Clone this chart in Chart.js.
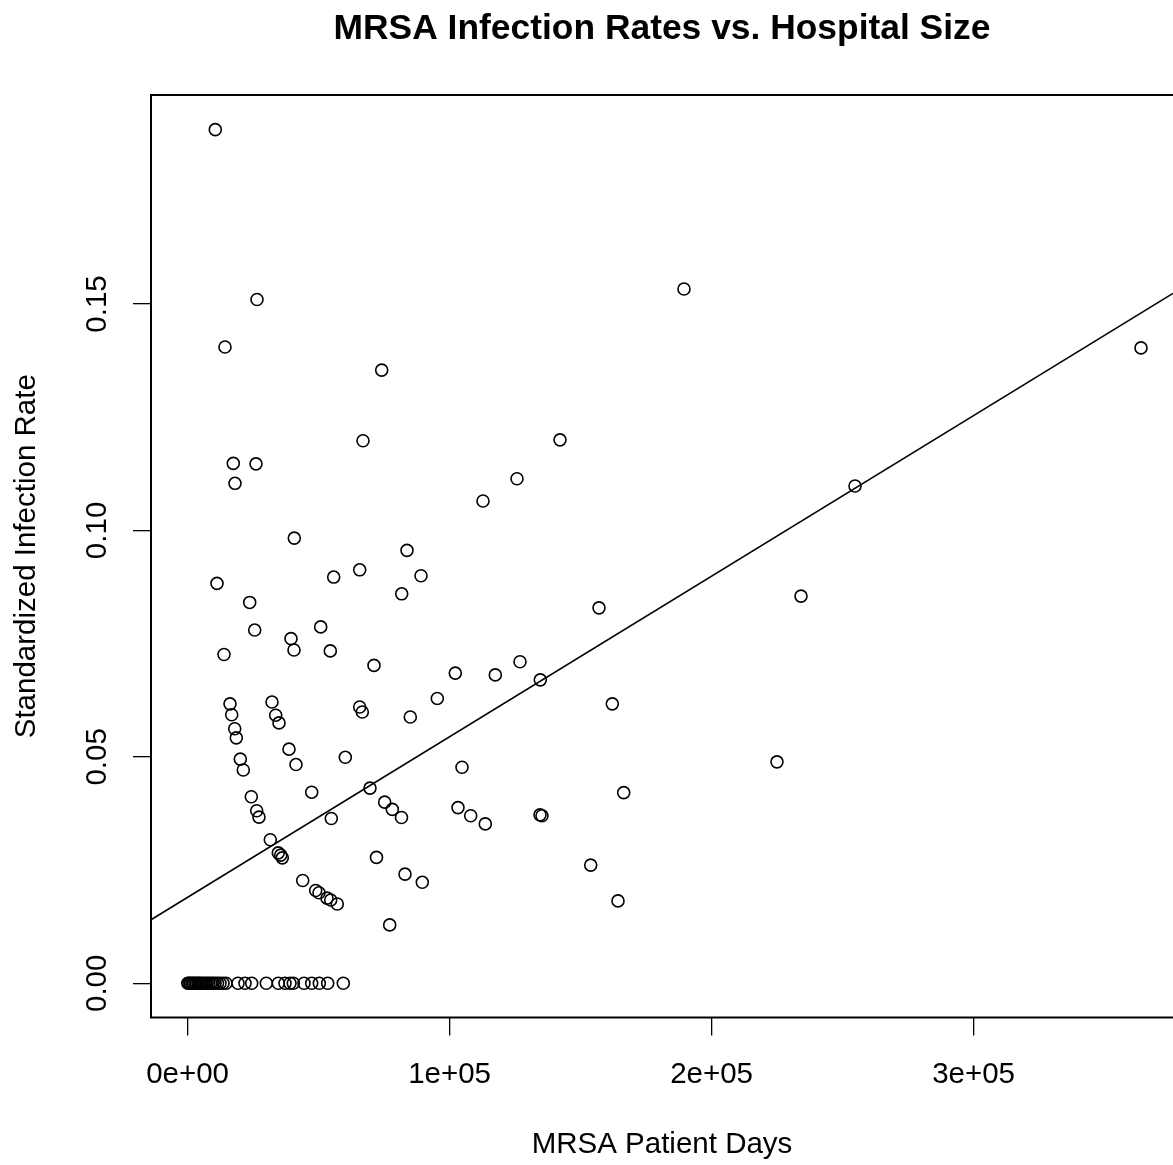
<!DOCTYPE html>
<html>
<head>
<meta charset="utf-8">
<title>MRSA Infection Rates vs. Hospital Size</title>
<script src="https://cdn.jsdelivr.net/npm/chart.js@4/dist/chart.umd.min.js"></script>
<style>
  html, body { margin: 0; padding: 0; background: #fff; overflow: hidden; }
  canvas { display: block; }
</style>
</head>
<body>
<canvas id="chart" width="1173" height="1165"></canvas>
<script>
// MRSA patient days per hospital and its standardized infection rate
const patientDays = [
  10573, 26489, 14275, 74083, 189466, 363894, 66947, 17443, 26107, 18092,
  142138, 125725, 112748, 254733, 40725, 83741, 65687, 55763, 89084, 11221,
  81718, 23702, 157023, 234123, 50802, 39466, 40611, 25611, 13893, 54466,
  71145, 102176, 117443, 126871, 134619, 95305, 85000, 162100, 65687, 66679,
  16183, 16832, 17977, 18588, 20114, 21260, 32214, 33626, 34886, 38702,
  41374, 60191, 104733, 224962, 166451, 24313, 26374, 27252, 47366, 54847,
  69618, 75229, 78130, 81641, 103206, 108054, 113626, 134504, 135267, 31565,
  34618, 35534, 36145, 72099, 82977, 89580, 153855, 164275, 77138, 43931,
  48893, 50153, 53206, 54618, 57137,
  // hospitals with no infections
  76, 534, 1107, 1679, 2252, 2824, 3397, 3969, 4542, 5115,
  5878, 6641, 7405, 8168, 8931, 9695, 10458, 11412, 12366, 13511,
  14656, 19237, 21908, 24466, 30038, 34618, 37176, 39084, 40344, 44428,
  47366, 50267, 53473, 59428
];
const infectionRate = [
  0.1885, 0.1510, 0.1405, 0.1354, 0.1533, 0.1403, 0.1198, 0.1148, 0.1147, 0.1104,
  0.1200, 0.1114, 0.1065, 0.1098, 0.0983, 0.0956, 0.0913, 0.0897, 0.0900, 0.0883,
  0.0860, 0.0841, 0.0829, 0.0855, 0.0787, 0.0761, 0.0736, 0.0780, 0.0726, 0.0734,
  0.0702, 0.0685, 0.0681, 0.0710, 0.0670, 0.0629, 0.0588, 0.0617, 0.0610, 0.0599,
  0.0617, 0.0593, 0.0562, 0.0542, 0.0495, 0.0471, 0.0621, 0.0592, 0.0575, 0.0517,
  0.0483, 0.0499, 0.0477, 0.0489, 0.0421, 0.0412, 0.0381, 0.0367, 0.0422, 0.0364,
  0.0431, 0.0400, 0.0384, 0.0366, 0.0388, 0.0370, 0.0352, 0.0372, 0.0370, 0.0317,
  0.0288, 0.0283, 0.0277, 0.0278, 0.0241, 0.0223, 0.0261, 0.0182, 0.0129, 0.0227,
  0.0205, 0.0200, 0.0188, 0.0184, 0.0175,
  0, 0, 0, 0, 0, 0, 0, 0, 0, 0,
  0, 0, 0, 0, 0, 0, 0, 0, 0, 0,
  0, 0, 0, 0, 0, 0, 0, 0, 0, 0,
  0, 0, 0, 0
];

// least squares line (abline)
const fitIntercept = 0.018985;
const fitSlope = 3.5457e-7;

const xTicks = [0, 100000, 200000, 300000];
const xTickLabels = ["0e+00", "1e+05", "2e+05", "3e+05"];
const yTicks = [0, 0.05, 0.10, 0.15];
const yTickLabels = ["0.00", "0.05", "0.10", "0.15"];

// axis limits (the plot region runs a little past the right edge of the page)
const xMin = -13969, xMax = 376107;
const yMin = -0.007552, yMax = 0.19615;

Chart.defaults.font.family = "'Liberation Sans', Arial, sans-serif";
Chart.defaults.color = "#000";

const points = patientDays.map((d, i) => ({ x: d, y: infectionRate[i] }));
const fitLine = [xMin, xMax].map(x => ({ x: x, y: fitIntercept + fitSlope * x }));

// box around the plot region (right side falls outside the page)
const boxPlugin = {
  id: "box",
  afterDraw(chart) {
    const { ctx, chartArea: a } = chart;
    ctx.save();
    ctx.strokeStyle = "#000";
    ctx.lineWidth = 2;
    ctx.beginPath();
    ctx.moveTo(a.right + 10, a.top);
    ctx.lineTo(a.left, a.top);
    ctx.lineTo(a.left, a.bottom);
    ctx.lineTo(a.right + 10, a.bottom);
    ctx.stroke();
    ctx.restore();
  }
};

new Chart(document.getElementById("chart"), {
  type: "scatter",
  data: {
    datasets: [
      {
        data: points,
        pointStyle: "circle",
        pointRadius: 6,
        pointHoverRadius: 6,
        pointBorderWidth: 1.6,
        pointBorderColor: "#000",
        pointBackgroundColor: "rgba(0,0,0,0)"
      },
      {
        data: fitLine,
        showLine: true,
        borderColor: "#000",
        borderWidth: 1.6,
        pointRadius: 0
      }
    ]
  },
  plugins: [boxPlugin],
  options: {
    responsive: false,
    animation: false,
    events: [],
    layout: { padding: 0, autoPadding: false },
    plugins: {
      legend: { display: false },
      tooltip: { enabled: false },
      title: {
        display: true,
        fullSize: false,
        text: "MRSA Infection Rates vs. Hospital Size",
        color: "#000",
        font: { size: 35.4, weight: "bold" },
        padding: { top: 7.5, bottom: 45 }
      }
    },
    scales: {
      x: {
        type: "linear",
        min: xMin,
        max: xMax,
        afterBuildTicks: s => { s.ticks = xTicks.map(v => ({ value: v })); },
        afterFit: s => { s.height = 147.5; },
        border: { display: false },
        grid: { drawOnChartArea: false, drawTicks: true, tickLength: 18, color: "#000", lineWidth: 1.3 },
        ticks: {
          autoSkip: false,
          maxRotation: 0,
          padding: 21.5,
          font: { size: 29.5 },
          callback: (v, i) => xTickLabels[i]
        },
        title: {
          display: true,
          text: "MRSA Patient Days",
          font: { size: 29.5 },
          padding: { top: 0, bottom: 2.8 }
        }
      },
      y: {
        type: "linear",
        min: yMin,
        max: yMax,
        afterBuildTicks: s => { s.ticks = yTicks.map(v => ({ value: v })); },
        afterFit: s => { s.width = 151; },
        border: { display: false },
        grid: { drawOnChartArea: false, drawTicks: true, tickLength: 18, color: "#000", lineWidth: 1.3 },
        ticks: {
          autoSkip: false,
          minRotation: 90,
          maxRotation: 90,
          crossAlign: "center",
          padding: 6.3,
          font: { size: 29.5 },
          callback: (v, i) => yTickLabels[i]
        },
        title: {
          display: true,
          text: "Standardized Infection Rate",
          font: { size: 29.5 },
          padding: { top: 8.8, bottom: 0 }
        }
      }
    }
  }
});
</script>
</body>
</html>
